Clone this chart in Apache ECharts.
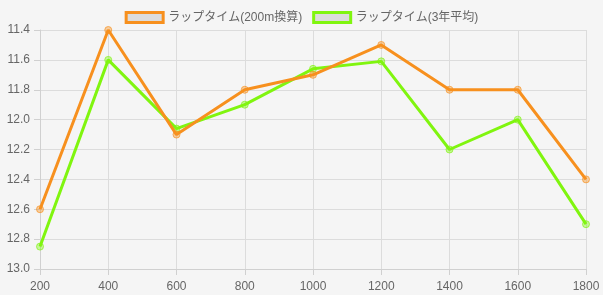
<!DOCTYPE html>
<html><head><meta charset="utf-8">
<script src="https://cdn.jsdelivr.net/npm/echarts@6/dist/echarts.min.js"></script>
<style>html,body{margin:0;padding:0;background:#f5f5f5;}#c{width:603px;height:295px;}</style>
</head><body><div id="c"></div>
<script>
const categories = ['200','400','600','800','1000','1200','1400','1600','1800'];
const lap200 = [12.6, 11.4, 12.1, 11.8, 11.7, 11.5, 11.8, 11.8, 12.4];
const lap3yr = [12.85, 11.6, 12.06, 11.9, 11.66, 11.61, 12.2, 12.0, 12.7];
const seriesNames = ['ラップタイム(200m換算)', 'ラップタイム(3年平均)'];
const colors = ['#f7901e', '#80f50f'];

const chart = echarts.init(document.getElementById('c'));
const font = '"Liberation Sans","Noto Sans CJK JP",sans-serif';
chart.setOption({
  backgroundColor: '#f5f5f5',
  animation: false,
  legend: {
    top: 6, left: 'center', itemWidth: 37, itemHeight: 10, itemGap: 10,
    textStyle: {color: '#666', fontSize: 12, fontFamily: font},
    data: seriesNames.map((n, i) => ({name: n, icon: 'rect',
      itemStyle: {color: '#dcdcdc', borderColor: colors[i], borderWidth: 3}}))
  },
  grid: {left: 40, right: 17, top: 30, bottom: 26},
  xAxis: {
    type: 'category', data: categories, boundaryGap: false,
    axisLine: {lineStyle: {color: '#d0d0d0'}},
    axisTick: {show: true, length: 6, lineStyle: {color: '#d0d0d0'}},
    axisLabel: {color: '#666', fontSize: 12, fontFamily: font, margin: 12},
    splitLine: {show: true, lineStyle: {color: '#dcdcdc'}}
  },
  yAxis: {
    type: 'value', inverse: true, min: 11.4, max: 13.0, interval: 0.2,
    axisLine: {show: true, lineStyle: {color: '#d0d0d0'}},
    axisTick: {show: true, length: 6, lineStyle: {color: '#d0d0d0'}},
    axisLabel: {color: '#666', fontSize: 12, fontFamily: font, margin: 10,
      formatter: v => v.toFixed(1)},
    splitLine: {show: true, lineStyle: {color: '#dcdcdc'}}
  },
  series: [lap200, lap3yr].map((d, i) => ({
    name: seriesNames[i], type: 'line', data: d,
    symbol: 'circle', symbolSize: 7,
    lineStyle: {color: colors[i], width: 3},
    itemStyle: {color: colors[i] + '66', borderColor: colors[i] + 'aa', borderWidth: 1},
    z: 2 - i
  }))
});
</script></body></html>
